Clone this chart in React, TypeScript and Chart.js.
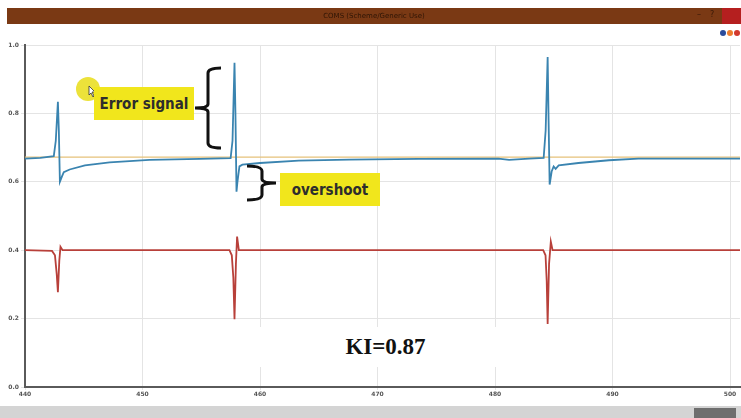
import React, { useEffect, useRef } from "react";
import { Chart, registerables } from "chart.js";

Chart.register(...registerables);

// ---- data ----
const X_MIN = 440;
const X_MAX = 500.85;
const Y_MIN = 0;
const Y_MAX = 1.0;
const X_STEP = 10;
const Y_STEP = 0.2;

const blueT = [440.0, 441.3, 442.45, 442.62, 442.8, 442.88, 442.97, 443.14, 443.3, 443.8, 445.1, 447.2, 450.6, 454.9,
  457.5, 457.66, 457.83, 457.91, 458.0, 458.08, 458.25, 458.5, 460.0, 463.3, 467.6, 473.5, 480.3, 481.2, 482.9,
  484.14, 484.31, 484.48, 484.56, 484.65, 484.82, 484.99, 485.16, 485.42, 487.1, 489.7, 492.2, 497.3, 500.85];
const blueV = [0.668, 0.670, 0.675, 0.72, 0.834, 0.75, 0.60, 0.615, 0.628, 0.636, 0.648, 0.657, 0.664, 0.667,
  0.669, 0.72, 0.948, 0.80, 0.571, 0.60, 0.645, 0.650, 0.655, 0.662, 0.665, 0.667, 0.668, 0.664, 0.668,
  0.670, 0.75, 0.965, 0.78, 0.592, 0.63, 0.645, 0.638, 0.648, 0.655, 0.663, 0.668, 0.668, 0.668];

const redT = [440.0, 442.3, 442.55, 442.7, 442.8, 442.92, 443.02, 443.2, 457.4, 457.6, 457.73, 457.83, 457.95,
  458.05, 458.2, 484.1, 484.3, 484.4, 484.48, 484.6, 484.75, 484.9, 500.85];
const redV = [0.400, 0.398, 0.385, 0.33, 0.277, 0.37, 0.41, 0.400, 0.400, 0.385, 0.32, 0.198, 0.36,
  0.44, 0.400, 0.400, 0.385, 0.31, 0.184, 0.36, 0.425, 0.400, 0.400];

const refT = [440.0, 500.85];
const refV = [0.672, 0.672];

const pts = (t: number[], v: number[]) => t.map((x, i) => ({ x, y: v[i] }));

export default function App() {
  const canvasRef = useRef<HTMLCanvasElement | null>(null);

  useEffect(() => {
    const canvas = canvasRef.current;
    if (!canvas) return;
    const chart = new Chart(canvas, {
      type: "line",
      data: {
        datasets: [
          {
            label: "signal",
            data: pts(blueT, blueV),
            borderColor: "#3a84b0",
            borderWidth: 1.8,
            pointRadius: 0,
            tension: 0,
          },
          {
            label: "reference",
            data: pts(refT, refV),
            borderColor: "#e6c27a",
            borderWidth: 1.2,
            pointRadius: 0,
          },
          {
            label: "control",
            data: pts(redT, redV),
            borderColor: "#b8403a",
            borderWidth: 1.8,
            pointRadius: 0,
            tension: 0,
          },
        ],
      },
      options: {
        responsive: false,
        animation: false,
        layout: { padding: { top: 45, bottom: 12, left: 0, right: 1 } },
        plugins: { legend: { display: false }, tooltip: { enabled: false } },
        scales: {
          x: {
            type: "linear",
            min: X_MIN,
            max: X_MAX,
            afterFit: (s: any) => { s.height = 19; },
            ticks: {
              stepSize: X_STEP,
              includeBounds: false,
              maxRotation: 0,
              padding: 1,
              color: "#555",
              font: { size: 6, family: "DejaVu Sans", weight: "bold" },
              callback: (v: any) => String(Math.round(Number(v))),
            },
            grid: { color: "#e4e4e4", lineWidth: 1, tickLength: 3 },
            border: { color: "#5a5a5a", width: 2 },
          },
          y: {
            type: "linear",
            min: Y_MIN,
            max: Y_MAX,
            afterFit: (s: any) => { s.width = 25; },
            ticks: {
              stepSize: Y_STEP,
              padding: 2,
              color: "#555",
              font: { size: 6, family: "DejaVu Sans", weight: "bold" },
              callback: (v: any) => Number(v).toFixed(1),
            },
            grid: { color: "#e4e4e4", lineWidth: 1, tickLength: 4 },
            border: { color: "#5a5a5a", width: 2 },
          },
        },
      },
    });
    return () => chart.destroy();
  }, []);

  const boxFont = "'DejaVu Sans Condensed', 'Liberation Sans Narrow', 'DejaVu Sans', sans-serif";

  return (
    <div style={{ position: "fixed", left: 0, top: 0, width: 741, height: 418, background: "#fff", overflow: "hidden" }}>
      <canvas ref={canvasRef} width={741} height={418} style={{ position: "absolute", left: 0, top: 0, width: 741, height: 418 }} />

      {/* window title bar */}
      <div style={{ position: "absolute", left: 7, top: 8, width: 734, height: 16, background: "#7a3914" }}>
        <div style={{ position: "absolute", left: 0, right: 0, top: 4, textAlign: "center", fontFamily: "DejaVu Sans", fontSize: 7, color: "#2e1505" }}>
          COMS (Scheme/Generic Use)
        </div>
        <div style={{ position: "absolute", left: 690, top: 2, fontFamily: "DejaVu Sans", fontSize: 8, color: "#3a1a08" }}>–</div>
        <div style={{ position: "absolute", left: 703, top: 2, fontFamily: "DejaVu Sans", fontSize: 8, color: "#3a1a08" }}>?</div>
        <div style={{ position: "absolute", left: 715, top: 0, width: 19, height: 16, background: "#b51f1f" }} />
      </div>

      {/* legend swatches */}
      <div style={{ position: "absolute", left: 720, top: 30, width: 6, height: 6, borderRadius: 3, background: "#2b4c9c" }} />
      <div style={{ position: "absolute", left: 727, top: 30, width: 6, height: 6, borderRadius: 3, background: "#ee7d2e" }} />
      <div style={{ position: "absolute", left: 734, top: 30, width: 6, height: 6, borderRadius: 3, background: "#d23a2e" }} />

      {/* status bar */}
      <div style={{ position: "absolute", left: 0, top: 406, width: 741, height: 12, background: "#d4d4d4" }} />
      <div style={{ position: "absolute", left: 694, top: 408, width: 42, height: 10, background: "#6e6e6e" }} />

      {/* annotations */}
      <svg width={741} height={418} style={{ position: "absolute", left: 0, top: 0 }}>
        <circle cx={88} cy={89} r={12} fill="#ece23a" />
        <path d="M89,86 L89,95 L91,93 L93,97 L94,96 L92,92 L95,92 Z" fill="#fff" stroke="#333" strokeWidth={0.8} />
        <path d="M221,68 Q208,68 208,73 L208,104 Q208,108 195,108 Q208,108 208,112 L208,143 Q208,148 221,148"
          fill="none" stroke="#111" strokeWidth={3} />
        <path d="M247,166 Q262,166 262,171 L262,179 Q262,183 276,183 Q262,183 262,187 L262,195 Q262,200 247,200"
          fill="none" stroke="#111" strokeWidth={3} />
      </svg>

      <div style={{ position: "absolute", left: 94, top: 87, width: 100, height: 33, background: "#f1e61c",
        display: "flex", alignItems: "center", justifyContent: "center",
        fontFamily: boxFont, fontWeight: "bold", fontSize: 15, color: "#2d2d2d" }}>
        Error signal
      </div>
      <div style={{ position: "absolute", left: 280, top: 173, width: 100, height: 33, background: "#f1e61c",
        display: "flex", alignItems: "center", justifyContent: "center",
        fontFamily: boxFont, fontWeight: "bold", fontSize: 15, color: "#2d2d2d" }}>
        overshoot
      </div>
      <div style={{ position: "absolute", left: 248, top: 327, width: 275, height: 40, background: "#fff",
        display: "flex", alignItems: "center", justifyContent: "center",
        fontFamily: "'Liberation Serif', 'DejaVu Serif', serif", fontWeight: "bold", fontSize: 23, color: "#111" }}>
        KI=0.87
      </div>
    </div>
  );
}
